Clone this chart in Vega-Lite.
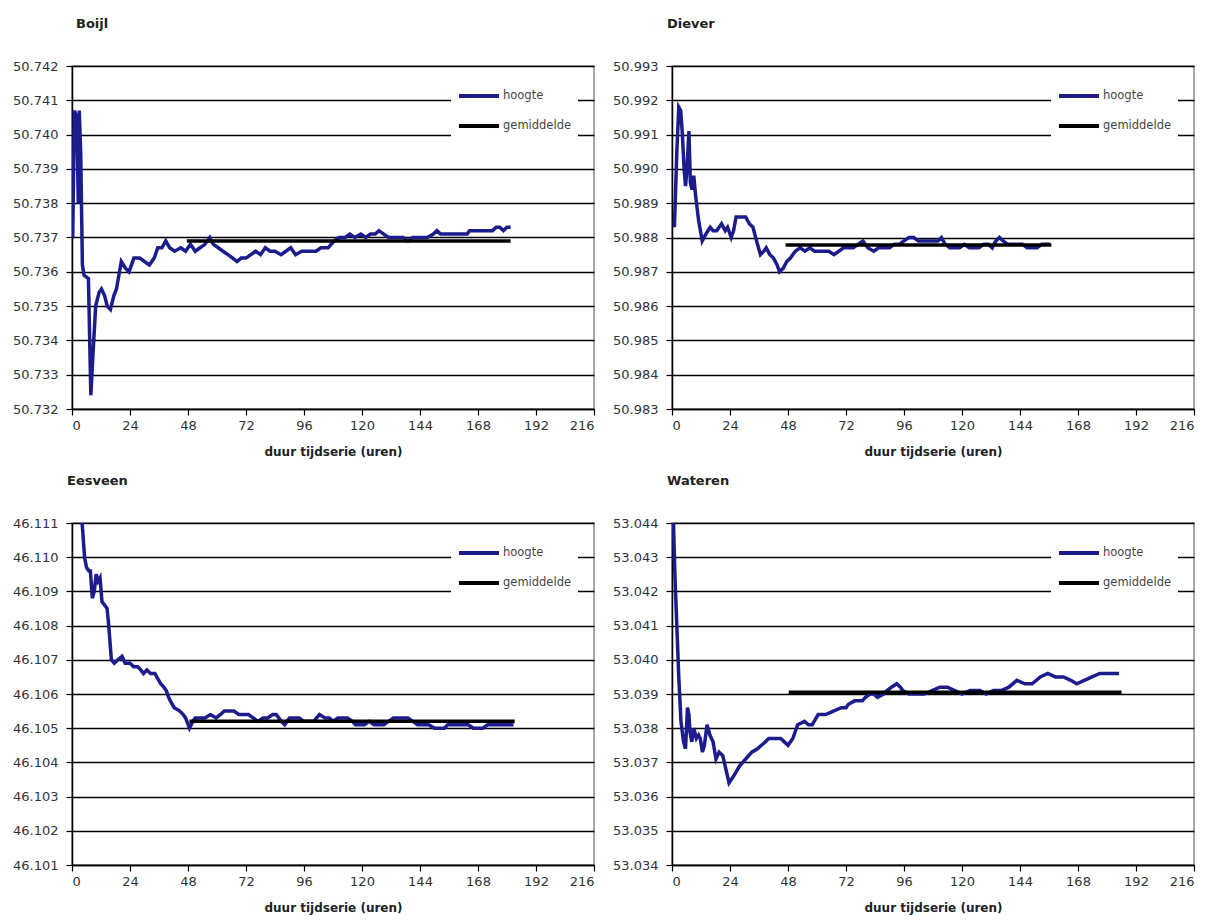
{
  "$schema": "https://vega.github.io/schema/vega-lite/v6.json",
  "padding": {"left": 5, "top": 17, "right": 5, "bottom": 5},
  "background": "white",
  "config": {
    "font": "DejaVu Sans",
    "view": {"stroke": "#8c8c8c", "strokeWidth": 1.5},
    "axis": {"labelFont": "DejaVu Sans", "labelFontSize": 13, "labelColor": "#333333", "tickColor": "#000000", "domainColor": "#000000", "domainWidth": 1.5, "tickWidth": 1.2, "tickSize": 6, "gridColor": "#000000", "gridWidth": 1.5, "titleFont": "DejaVu Sans", "titleFontSize": 12, "titleFontWeight": "bold", "titleColor": "#222222"},
    "axisX": {"grid": false, "labelPadding": 4, "titlePadding": 14},
    "axisY": {"grid": true, "format": ".3f", "title": null, "minExtent": 66, "maxExtent": 66, "labelPadding": 8},
    "title": {"anchor": "start", "frame": "group", "fontSize": 13, "fontWeight": "bold", "color": "#222222", "offset": 29, "font": "DejaVu Sans"},
    "legend": {"orient": "none", "legendX": 379, "legendY": 2, "fillColor": "white", "padding": 6, "symbolType": "stroke", "symbolSize": 1600, "symbolStrokeWidth": 4, "labelFont": "DejaVu Sans", "labelFontSize": 11.5, "labelColor": "#444444", "labelOffset": 2, "rowPadding": 0, "labelExpr": "datum.label + '  '"}
  },
  "datasets": {
    "all": [
      {"s": "Boijl", "k": "hoogte", "t": 0.3, "v": 50.7370},
      {"s": "Boijl", "k": "hoogte", "t": 1.0, "v": 50.7407},
      {"s": "Boijl", "k": "hoogte", "t": 2.0, "v": 50.7405},
      {"s": "Boijl", "k": "hoogte", "t": 2.6, "v": 50.7380},
      {"s": "Boijl", "k": "hoogte", "t": 3.0, "v": 50.7407},
      {"s": "Boijl", "k": "hoogte", "t": 3.6, "v": 50.7395},
      {"s": "Boijl", "k": "hoogte", "t": 4.3, "v": 50.7362},
      {"s": "Boijl", "k": "hoogte", "t": 5.0, "v": 50.7359},
      {"s": "Boijl", "k": "hoogte", "t": 6.8, "v": 50.7358},
      {"s": "Boijl", "k": "hoogte", "t": 7.8, "v": 50.7324},
      {"s": "Boijl", "k": "hoogte", "t": 8.6, "v": 50.7335},
      {"s": "Boijl", "k": "hoogte", "t": 9.8, "v": 50.7350},
      {"s": "Boijl", "k": "hoogte", "t": 11.2, "v": 50.7354},
      {"s": "Boijl", "k": "hoogte", "t": 12.2, "v": 50.7355},
      {"s": "Boijl", "k": "hoogte", "t": 13.5, "v": 50.7353},
      {"s": "Boijl", "k": "hoogte", "t": 14.6, "v": 50.7350},
      {"s": "Boijl", "k": "hoogte", "t": 15.9, "v": 50.7349},
      {"s": "Boijl", "k": "hoogte", "t": 17.3, "v": 50.7353},
      {"s": "Boijl", "k": "hoogte", "t": 18.4, "v": 50.7355},
      {"s": "Boijl", "k": "hoogte", "t": 20.4, "v": 50.7363},
      {"s": "Boijl", "k": "hoogte", "t": 22.2, "v": 50.7361},
      {"s": "Boijl", "k": "hoogte", "t": 23.6, "v": 50.7360},
      {"s": "Boijl", "k": "hoogte", "t": 25.6, "v": 50.7364},
      {"s": "Boijl", "k": "hoogte", "t": 28.0, "v": 50.7364},
      {"s": "Boijl", "k": "hoogte", "t": 30.0, "v": 50.7363},
      {"s": "Boijl", "k": "hoogte", "t": 32.0, "v": 50.7362},
      {"s": "Boijl", "k": "hoogte", "t": 34.0, "v": 50.7364},
      {"s": "Boijl", "k": "hoogte", "t": 35.5, "v": 50.7367},
      {"s": "Boijl", "k": "hoogte", "t": 37.2, "v": 50.7367},
      {"s": "Boijl", "k": "hoogte", "t": 38.8, "v": 50.7369},
      {"s": "Boijl", "k": "hoogte", "t": 40.4, "v": 50.7367},
      {"s": "Boijl", "k": "hoogte", "t": 42.5, "v": 50.7366},
      {"s": "Boijl", "k": "hoogte", "t": 45.0, "v": 50.7367},
      {"s": "Boijl", "k": "hoogte", "t": 47.0, "v": 50.7366},
      {"s": "Boijl", "k": "hoogte", "t": 49.0, "v": 50.7368},
      {"s": "Boijl", "k": "hoogte", "t": 51.0, "v": 50.7366},
      {"s": "Boijl", "k": "hoogte", "t": 53.0, "v": 50.7367},
      {"s": "Boijl", "k": "hoogte", "t": 55.0, "v": 50.7368},
      {"s": "Boijl", "k": "hoogte", "t": 57.0, "v": 50.7370},
      {"s": "Boijl", "k": "hoogte", "t": 58.5, "v": 50.7368},
      {"s": "Boijl", "k": "hoogte", "t": 60.5, "v": 50.7367},
      {"s": "Boijl", "k": "hoogte", "t": 62.5, "v": 50.7366},
      {"s": "Boijl", "k": "hoogte", "t": 64.5, "v": 50.7365},
      {"s": "Boijl", "k": "hoogte", "t": 66.5, "v": 50.7364},
      {"s": "Boijl", "k": "hoogte", "t": 68.3, "v": 50.7363},
      {"s": "Boijl", "k": "hoogte", "t": 70.0, "v": 50.7364},
      {"s": "Boijl", "k": "hoogte", "t": 72.0, "v": 50.7364},
      {"s": "Boijl", "k": "hoogte", "t": 74.0, "v": 50.7365},
      {"s": "Boijl", "k": "hoogte", "t": 76.0, "v": 50.7366},
      {"s": "Boijl", "k": "hoogte", "t": 78.0, "v": 50.7365},
      {"s": "Boijl", "k": "hoogte", "t": 80.0, "v": 50.7367},
      {"s": "Boijl", "k": "hoogte", "t": 82.0, "v": 50.7366},
      {"s": "Boijl", "k": "hoogte", "t": 84.0, "v": 50.7366},
      {"s": "Boijl", "k": "hoogte", "t": 86.5, "v": 50.7365},
      {"s": "Boijl", "k": "hoogte", "t": 88.5, "v": 50.7366},
      {"s": "Boijl", "k": "hoogte", "t": 90.5, "v": 50.7367},
      {"s": "Boijl", "k": "hoogte", "t": 92.5, "v": 50.7365},
      {"s": "Boijl", "k": "hoogte", "t": 95.0, "v": 50.7366},
      {"s": "Boijl", "k": "hoogte", "t": 98.0, "v": 50.7366},
      {"s": "Boijl", "k": "hoogte", "t": 101.0, "v": 50.7366},
      {"s": "Boijl", "k": "hoogte", "t": 103.0, "v": 50.7367},
      {"s": "Boijl", "k": "hoogte", "t": 106.0, "v": 50.7367},
      {"s": "Boijl", "k": "hoogte", "t": 108.5, "v": 50.7369},
      {"s": "Boijl", "k": "hoogte", "t": 110.5, "v": 50.7370},
      {"s": "Boijl", "k": "hoogte", "t": 113.0, "v": 50.7370},
      {"s": "Boijl", "k": "hoogte", "t": 115.0, "v": 50.7371},
      {"s": "Boijl", "k": "hoogte", "t": 117.0, "v": 50.7370},
      {"s": "Boijl", "k": "hoogte", "t": 119.5, "v": 50.7371},
      {"s": "Boijl", "k": "hoogte", "t": 121.5, "v": 50.7370},
      {"s": "Boijl", "k": "hoogte", "t": 123.5, "v": 50.7371},
      {"s": "Boijl", "k": "hoogte", "t": 125.5, "v": 50.7371},
      {"s": "Boijl", "k": "hoogte", "t": 127.0, "v": 50.7372},
      {"s": "Boijl", "k": "hoogte", "t": 129.0, "v": 50.7371},
      {"s": "Boijl", "k": "hoogte", "t": 131.0, "v": 50.7370},
      {"s": "Boijl", "k": "hoogte", "t": 134.0, "v": 50.7370},
      {"s": "Boijl", "k": "hoogte", "t": 137.0, "v": 50.7370},
      {"s": "Boijl", "k": "hoogte", "t": 139.0, "v": 50.7369},
      {"s": "Boijl", "k": "hoogte", "t": 141.0, "v": 50.7370},
      {"s": "Boijl", "k": "hoogte", "t": 144.0, "v": 50.7370},
      {"s": "Boijl", "k": "hoogte", "t": 147.0, "v": 50.7370},
      {"s": "Boijl", "k": "hoogte", "t": 149.5, "v": 50.7371},
      {"s": "Boijl", "k": "hoogte", "t": 151.0, "v": 50.7372},
      {"s": "Boijl", "k": "hoogte", "t": 152.5, "v": 50.7371},
      {"s": "Boijl", "k": "hoogte", "t": 155.0, "v": 50.7371},
      {"s": "Boijl", "k": "hoogte", "t": 158.0, "v": 50.7371},
      {"s": "Boijl", "k": "hoogte", "t": 161.0, "v": 50.7371},
      {"s": "Boijl", "k": "hoogte", "t": 163.5, "v": 50.7371},
      {"s": "Boijl", "k": "hoogte", "t": 164.5, "v": 50.7372},
      {"s": "Boijl", "k": "hoogte", "t": 168.0, "v": 50.7372},
      {"s": "Boijl", "k": "hoogte", "t": 171.0, "v": 50.7372},
      {"s": "Boijl", "k": "hoogte", "t": 174.0, "v": 50.7372},
      {"s": "Boijl", "k": "hoogte", "t": 175.5, "v": 50.7373},
      {"s": "Boijl", "k": "hoogte", "t": 177.0, "v": 50.7373},
      {"s": "Boijl", "k": "hoogte", "t": 178.5, "v": 50.7372},
      {"s": "Boijl", "k": "hoogte", "t": 180.0, "v": 50.7373},
      {"s": "Boijl", "k": "hoogte", "t": 181.5, "v": 50.7373},
      {"s": "Boijl", "k": "gemiddelde", "t": 47.5, "v": 50.7369},
      {"s": "Boijl", "k": "gemiddelde", "t": 181.5, "v": 50.7369},

      {"s": "Diever", "k": "hoogte", "t": 1.0, "v": 50.9883},
      {"s": "Diever", "k": "hoogte", "t": 2.0, "v": 50.9905},
      {"s": "Diever", "k": "hoogte", "t": 2.8, "v": 50.9918},
      {"s": "Diever", "k": "hoogte", "t": 3.6, "v": 50.9917},
      {"s": "Diever", "k": "hoogte", "t": 4.3, "v": 50.9910},
      {"s": "Diever", "k": "hoogte", "t": 5.0, "v": 50.9900},
      {"s": "Diever", "k": "hoogte", "t": 5.6, "v": 50.9895},
      {"s": "Diever", "k": "hoogte", "t": 6.2, "v": 50.9900},
      {"s": "Diever", "k": "hoogte", "t": 7.0, "v": 50.9911},
      {"s": "Diever", "k": "hoogte", "t": 7.6, "v": 50.9896},
      {"s": "Diever", "k": "hoogte", "t": 8.3, "v": 50.9894},
      {"s": "Diever", "k": "hoogte", "t": 9.0, "v": 50.9898},
      {"s": "Diever", "k": "hoogte", "t": 9.8, "v": 50.9892},
      {"s": "Diever", "k": "hoogte", "t": 11.0, "v": 50.9885},
      {"s": "Diever", "k": "hoogte", "t": 12.5, "v": 50.9879},
      {"s": "Diever", "k": "hoogte", "t": 14.0, "v": 50.9881},
      {"s": "Diever", "k": "hoogte", "t": 15.8, "v": 50.9883},
      {"s": "Diever", "k": "hoogte", "t": 17.0, "v": 50.9882},
      {"s": "Diever", "k": "hoogte", "t": 18.5, "v": 50.9882},
      {"s": "Diever", "k": "hoogte", "t": 20.5, "v": 50.9884},
      {"s": "Diever", "k": "hoogte", "t": 22.0, "v": 50.9882},
      {"s": "Diever", "k": "hoogte", "t": 23.0, "v": 50.9883},
      {"s": "Diever", "k": "hoogte", "t": 24.5, "v": 50.9880},
      {"s": "Diever", "k": "hoogte", "t": 25.5, "v": 50.9882},
      {"s": "Diever", "k": "hoogte", "t": 26.5, "v": 50.9886},
      {"s": "Diever", "k": "hoogte", "t": 28.5, "v": 50.9886},
      {"s": "Diever", "k": "hoogte", "t": 30.5, "v": 50.9886},
      {"s": "Diever", "k": "hoogte", "t": 32.0, "v": 50.9884},
      {"s": "Diever", "k": "hoogte", "t": 33.5, "v": 50.9883},
      {"s": "Diever", "k": "hoogte", "t": 35.0, "v": 50.9879},
      {"s": "Diever", "k": "hoogte", "t": 36.6, "v": 50.9875},
      {"s": "Diever", "k": "hoogte", "t": 38.0, "v": 50.9876},
      {"s": "Diever", "k": "hoogte", "t": 39.0, "v": 50.9877},
      {"s": "Diever", "k": "hoogte", "t": 40.5, "v": 50.9875},
      {"s": "Diever", "k": "hoogte", "t": 42.0, "v": 50.9874},
      {"s": "Diever", "k": "hoogte", "t": 43.5, "v": 50.9872},
      {"s": "Diever", "k": "hoogte", "t": 44.5, "v": 50.9870},
      {"s": "Diever", "k": "hoogte", "t": 46.0, "v": 50.9871},
      {"s": "Diever", "k": "hoogte", "t": 47.5, "v": 50.9873},
      {"s": "Diever", "k": "hoogte", "t": 49.0, "v": 50.9874},
      {"s": "Diever", "k": "hoogte", "t": 51.0, "v": 50.9876},
      {"s": "Diever", "k": "hoogte", "t": 53.0, "v": 50.9877},
      {"s": "Diever", "k": "hoogte", "t": 55.0, "v": 50.9876},
      {"s": "Diever", "k": "hoogte", "t": 57.0, "v": 50.9877},
      {"s": "Diever", "k": "hoogte", "t": 59.0, "v": 50.9876},
      {"s": "Diever", "k": "hoogte", "t": 61.0, "v": 50.9876},
      {"s": "Diever", "k": "hoogte", "t": 63.0, "v": 50.9876},
      {"s": "Diever", "k": "hoogte", "t": 65.0, "v": 50.9876},
      {"s": "Diever", "k": "hoogte", "t": 67.0, "v": 50.9875},
      {"s": "Diever", "k": "hoogte", "t": 69.0, "v": 50.9876},
      {"s": "Diever", "k": "hoogte", "t": 71.0, "v": 50.9877},
      {"s": "Diever", "k": "hoogte", "t": 73.0, "v": 50.9877},
      {"s": "Diever", "k": "hoogte", "t": 75.0, "v": 50.9877},
      {"s": "Diever", "k": "hoogte", "t": 77.0, "v": 50.9878},
      {"s": "Diever", "k": "hoogte", "t": 79.0, "v": 50.9879},
      {"s": "Diever", "k": "hoogte", "t": 81.0, "v": 50.9877},
      {"s": "Diever", "k": "hoogte", "t": 83.5, "v": 50.9876},
      {"s": "Diever", "k": "hoogte", "t": 85.5, "v": 50.9877},
      {"s": "Diever", "k": "hoogte", "t": 88.0, "v": 50.9877},
      {"s": "Diever", "k": "hoogte", "t": 90.0, "v": 50.9877},
      {"s": "Diever", "k": "hoogte", "t": 92.0, "v": 50.9878},
      {"s": "Diever", "k": "hoogte", "t": 94.0, "v": 50.9878},
      {"s": "Diever", "k": "hoogte", "t": 96.0, "v": 50.9879},
      {"s": "Diever", "k": "hoogte", "t": 98.0, "v": 50.9880},
      {"s": "Diever", "k": "hoogte", "t": 100.0, "v": 50.9880},
      {"s": "Diever", "k": "hoogte", "t": 102.0, "v": 50.9879},
      {"s": "Diever", "k": "hoogte", "t": 104.0, "v": 50.9879},
      {"s": "Diever", "k": "hoogte", "t": 106.0, "v": 50.9879},
      {"s": "Diever", "k": "hoogte", "t": 108.0, "v": 50.9879},
      {"s": "Diever", "k": "hoogte", "t": 110.0, "v": 50.9879},
      {"s": "Diever", "k": "hoogte", "t": 111.5, "v": 50.9880},
      {"s": "Diever", "k": "hoogte", "t": 113.0, "v": 50.9878},
      {"s": "Diever", "k": "hoogte", "t": 115.0, "v": 50.9877},
      {"s": "Diever", "k": "hoogte", "t": 117.0, "v": 50.9877},
      {"s": "Diever", "k": "hoogte", "t": 119.0, "v": 50.9877},
      {"s": "Diever", "k": "hoogte", "t": 121.0, "v": 50.9878},
      {"s": "Diever", "k": "hoogte", "t": 123.0, "v": 50.9877},
      {"s": "Diever", "k": "hoogte", "t": 125.0, "v": 50.9877},
      {"s": "Diever", "k": "hoogte", "t": 127.0, "v": 50.9877},
      {"s": "Diever", "k": "hoogte", "t": 129.0, "v": 50.9878},
      {"s": "Diever", "k": "hoogte", "t": 131.0, "v": 50.9878},
      {"s": "Diever", "k": "hoogte", "t": 132.5, "v": 50.9877},
      {"s": "Diever", "k": "hoogte", "t": 134.0, "v": 50.9879},
      {"s": "Diever", "k": "hoogte", "t": 135.5, "v": 50.9880},
      {"s": "Diever", "k": "hoogte", "t": 137.0, "v": 50.9879},
      {"s": "Diever", "k": "hoogte", "t": 139.0, "v": 50.9878},
      {"s": "Diever", "k": "hoogte", "t": 141.0, "v": 50.9878},
      {"s": "Diever", "k": "hoogte", "t": 143.0, "v": 50.9878},
      {"s": "Diever", "k": "hoogte", "t": 145.0, "v": 50.9878},
      {"s": "Diever", "k": "hoogte", "t": 147.0, "v": 50.9877},
      {"s": "Diever", "k": "hoogte", "t": 149.0, "v": 50.9877},
      {"s": "Diever", "k": "hoogte", "t": 151.0, "v": 50.9877},
      {"s": "Diever", "k": "hoogte", "t": 153.0, "v": 50.9878},
      {"s": "Diever", "k": "hoogte", "t": 155.0, "v": 50.9878},
      {"s": "Diever", "k": "hoogte", "t": 156.5, "v": 50.9878},
      {"s": "Diever", "k": "gemiddelde", "t": 47.0, "v": 50.98778},
      {"s": "Diever", "k": "gemiddelde", "t": 157.0, "v": 50.98778},

      {"s": "Eesveen", "k": "hoogte", "t": 3.8, "v": 46.1113},
      {"s": "Eesveen", "k": "hoogte", "t": 4.4, "v": 46.1108},
      {"s": "Eesveen", "k": "hoogte", "t": 5.2, "v": 46.1100},
      {"s": "Eesveen", "k": "hoogte", "t": 6.0, "v": 46.1097},
      {"s": "Eesveen", "k": "hoogte", "t": 7.0, "v": 46.1096},
      {"s": "Eesveen", "k": "hoogte", "t": 7.6, "v": 46.1096},
      {"s": "Eesveen", "k": "hoogte", "t": 8.4, "v": 46.1088},
      {"s": "Eesveen", "k": "hoogte", "t": 9.2, "v": 46.1090},
      {"s": "Eesveen", "k": "hoogte", "t": 10.0, "v": 46.1095},
      {"s": "Eesveen", "k": "hoogte", "t": 10.8, "v": 46.1093},
      {"s": "Eesveen", "k": "hoogte", "t": 11.6, "v": 46.1094},
      {"s": "Eesveen", "k": "hoogte", "t": 12.4, "v": 46.1087},
      {"s": "Eesveen", "k": "hoogte", "t": 13.5, "v": 46.1086},
      {"s": "Eesveen", "k": "hoogte", "t": 14.5, "v": 46.1085},
      {"s": "Eesveen", "k": "hoogte", "t": 15.2, "v": 46.1080},
      {"s": "Eesveen", "k": "hoogte", "t": 16.3, "v": 46.1070},
      {"s": "Eesveen", "k": "hoogte", "t": 17.5, "v": 46.1069},
      {"s": "Eesveen", "k": "hoogte", "t": 19.0, "v": 46.1070},
      {"s": "Eesveen", "k": "hoogte", "t": 20.7, "v": 46.1071},
      {"s": "Eesveen", "k": "hoogte", "t": 22.0, "v": 46.1069},
      {"s": "Eesveen", "k": "hoogte", "t": 24.0, "v": 46.1069},
      {"s": "Eesveen", "k": "hoogte", "t": 25.5, "v": 46.1068},
      {"s": "Eesveen", "k": "hoogte", "t": 27.2, "v": 46.1068},
      {"s": "Eesveen", "k": "hoogte", "t": 28.5, "v": 46.1067},
      {"s": "Eesveen", "k": "hoogte", "t": 29.6, "v": 46.1066},
      {"s": "Eesveen", "k": "hoogte", "t": 31.0, "v": 46.1067},
      {"s": "Eesveen", "k": "hoogte", "t": 32.5, "v": 46.1066},
      {"s": "Eesveen", "k": "hoogte", "t": 34.3, "v": 46.1066},
      {"s": "Eesveen", "k": "hoogte", "t": 35.9, "v": 46.1064},
      {"s": "Eesveen", "k": "hoogte", "t": 36.7, "v": 46.1063},
      {"s": "Eesveen", "k": "hoogte", "t": 38.0, "v": 46.1062},
      {"s": "Eesveen", "k": "hoogte", "t": 39.0, "v": 46.1061},
      {"s": "Eesveen", "k": "hoogte", "t": 40.0, "v": 46.1059},
      {"s": "Eesveen", "k": "hoogte", "t": 40.7, "v": 46.1058},
      {"s": "Eesveen", "k": "hoogte", "t": 42.3, "v": 46.1056},
      {"s": "Eesveen", "k": "hoogte", "t": 44.6, "v": 46.1055},
      {"s": "Eesveen", "k": "hoogte", "t": 46.0, "v": 46.1054},
      {"s": "Eesveen", "k": "hoogte", "t": 47.0, "v": 46.1053},
      {"s": "Eesveen", "k": "hoogte", "t": 48.6, "v": 46.1050},
      {"s": "Eesveen", "k": "hoogte", "t": 50.0, "v": 46.1052},
      {"s": "Eesveen", "k": "hoogte", "t": 51.0, "v": 46.1053},
      {"s": "Eesveen", "k": "hoogte", "t": 53.0, "v": 46.1053},
      {"s": "Eesveen", "k": "hoogte", "t": 55.0, "v": 46.1053},
      {"s": "Eesveen", "k": "hoogte", "t": 57.3, "v": 46.1054},
      {"s": "Eesveen", "k": "hoogte", "t": 59.6, "v": 46.1053},
      {"s": "Eesveen", "k": "hoogte", "t": 61.5, "v": 46.1054},
      {"s": "Eesveen", "k": "hoogte", "t": 63.0, "v": 46.1055},
      {"s": "Eesveen", "k": "hoogte", "t": 65.0, "v": 46.1055},
      {"s": "Eesveen", "k": "hoogte", "t": 67.0, "v": 46.1055},
      {"s": "Eesveen", "k": "hoogte", "t": 69.0, "v": 46.1054},
      {"s": "Eesveen", "k": "hoogte", "t": 71.0, "v": 46.1054},
      {"s": "Eesveen", "k": "hoogte", "t": 73.0, "v": 46.1054},
      {"s": "Eesveen", "k": "hoogte", "t": 75.0, "v": 46.1053},
      {"s": "Eesveen", "k": "hoogte", "t": 77.0, "v": 46.1052},
      {"s": "Eesveen", "k": "hoogte", "t": 79.0, "v": 46.1053},
      {"s": "Eesveen", "k": "hoogte", "t": 81.0, "v": 46.1053},
      {"s": "Eesveen", "k": "hoogte", "t": 83.0, "v": 46.1054},
      {"s": "Eesveen", "k": "hoogte", "t": 84.5, "v": 46.1054},
      {"s": "Eesveen", "k": "hoogte", "t": 86.6, "v": 46.1052},
      {"s": "Eesveen", "k": "hoogte", "t": 88.0, "v": 46.1051},
      {"s": "Eesveen", "k": "hoogte", "t": 90.0, "v": 46.1053},
      {"s": "Eesveen", "k": "hoogte", "t": 92.0, "v": 46.1053},
      {"s": "Eesveen", "k": "hoogte", "t": 94.0, "v": 46.1053},
      {"s": "Eesveen", "k": "hoogte", "t": 96.0, "v": 46.1052},
      {"s": "Eesveen", "k": "hoogte", "t": 98.0, "v": 46.1052},
      {"s": "Eesveen", "k": "hoogte", "t": 100.0, "v": 46.1052},
      {"s": "Eesveen", "k": "hoogte", "t": 102.4, "v": 46.1054},
      {"s": "Eesveen", "k": "hoogte", "t": 104.7, "v": 46.1053},
      {"s": "Eesveen", "k": "hoogte", "t": 106.5, "v": 46.1053},
      {"s": "Eesveen", "k": "hoogte", "t": 108.0, "v": 46.1052},
      {"s": "Eesveen", "k": "hoogte", "t": 110.0, "v": 46.1053},
      {"s": "Eesveen", "k": "hoogte", "t": 112.0, "v": 46.1053},
      {"s": "Eesveen", "k": "hoogte", "t": 114.0, "v": 46.1053},
      {"s": "Eesveen", "k": "hoogte", "t": 116.0, "v": 46.1052},
      {"s": "Eesveen", "k": "hoogte", "t": 117.3, "v": 46.1051},
      {"s": "Eesveen", "k": "hoogte", "t": 119.0, "v": 46.1051},
      {"s": "Eesveen", "k": "hoogte", "t": 121.0, "v": 46.1051},
      {"s": "Eesveen", "k": "hoogte", "t": 123.0, "v": 46.1052},
      {"s": "Eesveen", "k": "hoogte", "t": 125.0, "v": 46.1051},
      {"s": "Eesveen", "k": "hoogte", "t": 127.0, "v": 46.1051},
      {"s": "Eesveen", "k": "hoogte", "t": 129.0, "v": 46.1051},
      {"s": "Eesveen", "k": "hoogte", "t": 131.0, "v": 46.1052},
      {"s": "Eesveen", "k": "hoogte", "t": 133.0, "v": 46.1053},
      {"s": "Eesveen", "k": "hoogte", "t": 135.0, "v": 46.1053},
      {"s": "Eesveen", "k": "hoogte", "t": 137.0, "v": 46.1053},
      {"s": "Eesveen", "k": "hoogte", "t": 139.0, "v": 46.1053},
      {"s": "Eesveen", "k": "hoogte", "t": 141.0, "v": 46.1052},
      {"s": "Eesveen", "k": "hoogte", "t": 143.0, "v": 46.1051},
      {"s": "Eesveen", "k": "hoogte", "t": 145.0, "v": 46.1051},
      {"s": "Eesveen", "k": "hoogte", "t": 147.6, "v": 46.1051},
      {"s": "Eesveen", "k": "hoogte", "t": 150.0, "v": 46.1050},
      {"s": "Eesveen", "k": "hoogte", "t": 152.0, "v": 46.1050},
      {"s": "Eesveen", "k": "hoogte", "t": 154.0, "v": 46.1050},
      {"s": "Eesveen", "k": "hoogte", "t": 155.5, "v": 46.1051},
      {"s": "Eesveen", "k": "hoogte", "t": 158.0, "v": 46.1051},
      {"s": "Eesveen", "k": "hoogte", "t": 160.0, "v": 46.1051},
      {"s": "Eesveen", "k": "hoogte", "t": 162.0, "v": 46.1051},
      {"s": "Eesveen", "k": "hoogte", "t": 164.0, "v": 46.1051},
      {"s": "Eesveen", "k": "hoogte", "t": 166.0, "v": 46.1050},
      {"s": "Eesveen", "k": "hoogte", "t": 168.0, "v": 46.1050},
      {"s": "Eesveen", "k": "hoogte", "t": 170.0, "v": 46.1050},
      {"s": "Eesveen", "k": "hoogte", "t": 172.0, "v": 46.1051},
      {"s": "Eesveen", "k": "hoogte", "t": 174.0, "v": 46.1051},
      {"s": "Eesveen", "k": "hoogte", "t": 176.0, "v": 46.1051},
      {"s": "Eesveen", "k": "hoogte", "t": 178.6, "v": 46.1051},
      {"s": "Eesveen", "k": "hoogte", "t": 181.0, "v": 46.1051},
      {"s": "Eesveen", "k": "hoogte", "t": 182.7, "v": 46.1051},
      {"s": "Eesveen", "k": "gemiddelde", "t": 48.6, "v": 46.1052},
      {"s": "Eesveen", "k": "gemiddelde", "t": 183.2, "v": 46.1052},

      {"s": "Wateren", "k": "hoogte", "t": 0.4, "v": 53.0445},
      {"s": "Wateren", "k": "hoogte", "t": 1.2, "v": 53.0425},
      {"s": "Wateren", "k": "hoogte", "t": 2.0, "v": 53.0410},
      {"s": "Wateren", "k": "hoogte", "t": 2.8, "v": 53.0395},
      {"s": "Wateren", "k": "hoogte", "t": 3.7, "v": 53.0382},
      {"s": "Wateren", "k": "hoogte", "t": 4.8, "v": 53.0376},
      {"s": "Wateren", "k": "hoogte", "t": 5.6, "v": 53.0374},
      {"s": "Wateren", "k": "hoogte", "t": 6.4, "v": 53.0386},
      {"s": "Wateren", "k": "hoogte", "t": 7.0, "v": 53.0384},
      {"s": "Wateren", "k": "hoogte", "t": 7.4, "v": 53.0379},
      {"s": "Wateren", "k": "hoogte", "t": 8.2, "v": 53.0376},
      {"s": "Wateren", "k": "hoogte", "t": 9.0, "v": 53.0380},
      {"s": "Wateren", "k": "hoogte", "t": 10.1, "v": 53.0377},
      {"s": "Wateren", "k": "hoogte", "t": 11.0, "v": 53.0378},
      {"s": "Wateren", "k": "hoogte", "t": 11.7, "v": 53.0377},
      {"s": "Wateren", "k": "hoogte", "t": 12.6, "v": 53.0373},
      {"s": "Wateren", "k": "hoogte", "t": 13.4, "v": 53.0375},
      {"s": "Wateren", "k": "hoogte", "t": 14.5, "v": 53.0381},
      {"s": "Wateren", "k": "hoogte", "t": 15.7, "v": 53.0378},
      {"s": "Wateren", "k": "hoogte", "t": 17.0, "v": 53.0376},
      {"s": "Wateren", "k": "hoogte", "t": 18.2, "v": 53.0371},
      {"s": "Wateren", "k": "hoogte", "t": 19.5, "v": 53.0373},
      {"s": "Wateren", "k": "hoogte", "t": 21.0, "v": 53.0372},
      {"s": "Wateren", "k": "hoogte", "t": 22.3, "v": 53.0368},
      {"s": "Wateren", "k": "hoogte", "t": 23.6, "v": 53.0364},
      {"s": "Wateren", "k": "hoogte", "t": 25.5, "v": 53.0366},
      {"s": "Wateren", "k": "hoogte", "t": 28.0, "v": 53.0369},
      {"s": "Wateren", "k": "hoogte", "t": 30.5, "v": 53.0371},
      {"s": "Wateren", "k": "hoogte", "t": 33.0, "v": 53.0373},
      {"s": "Wateren", "k": "hoogte", "t": 35.4, "v": 53.0374},
      {"s": "Wateren", "k": "hoogte", "t": 37.0, "v": 53.0375},
      {"s": "Wateren", "k": "hoogte", "t": 38.6, "v": 53.0376},
      {"s": "Wateren", "k": "hoogte", "t": 40.0, "v": 53.0377},
      {"s": "Wateren", "k": "hoogte", "t": 41.8, "v": 53.0377},
      {"s": "Wateren", "k": "hoogte", "t": 43.5, "v": 53.0377},
      {"s": "Wateren", "k": "hoogte", "t": 45.0, "v": 53.0377},
      {"s": "Wateren", "k": "hoogte", "t": 46.5, "v": 53.0376},
      {"s": "Wateren", "k": "hoogte", "t": 48.0, "v": 53.0375},
      {"s": "Wateren", "k": "hoogte", "t": 50.0, "v": 53.0377},
      {"s": "Wateren", "k": "hoogte", "t": 52.0, "v": 53.0381},
      {"s": "Wateren", "k": "hoogte", "t": 54.8, "v": 53.0382},
      {"s": "Wateren", "k": "hoogte", "t": 56.5, "v": 53.0381},
      {"s": "Wateren", "k": "hoogte", "t": 58.0, "v": 53.0381},
      {"s": "Wateren", "k": "hoogte", "t": 60.5, "v": 53.0384},
      {"s": "Wateren", "k": "hoogte", "t": 62.0, "v": 53.0384},
      {"s": "Wateren", "k": "hoogte", "t": 63.6, "v": 53.0384},
      {"s": "Wateren", "k": "hoogte", "t": 66.8, "v": 53.0385},
      {"s": "Wateren", "k": "hoogte", "t": 70.0, "v": 53.0386},
      {"s": "Wateren", "k": "hoogte", "t": 72.0, "v": 53.0386},
      {"s": "Wateren", "k": "hoogte", "t": 73.0, "v": 53.0387},
      {"s": "Wateren", "k": "hoogte", "t": 75.6, "v": 53.0388},
      {"s": "Wateren", "k": "hoogte", "t": 77.5, "v": 53.0388},
      {"s": "Wateren", "k": "hoogte", "t": 78.8, "v": 53.0388},
      {"s": "Wateren", "k": "hoogte", "t": 80.0, "v": 53.0389},
      {"s": "Wateren", "k": "hoogte", "t": 82.0, "v": 53.0390},
      {"s": "Wateren", "k": "hoogte", "t": 83.5, "v": 53.0390},
      {"s": "Wateren", "k": "hoogte", "t": 85.0, "v": 53.0389},
      {"s": "Wateren", "k": "hoogte", "t": 87.6, "v": 53.0390},
      {"s": "Wateren", "k": "hoogte", "t": 89.0, "v": 53.0391},
      {"s": "Wateren", "k": "hoogte", "t": 90.8, "v": 53.0392},
      {"s": "Wateren", "k": "hoogte", "t": 93.0, "v": 53.0393},
      {"s": "Wateren", "k": "hoogte", "t": 94.5, "v": 53.0392},
      {"s": "Wateren", "k": "hoogte", "t": 95.5, "v": 53.0391},
      {"s": "Wateren", "k": "hoogte", "t": 98.0, "v": 53.0390},
      {"s": "Wateren", "k": "hoogte", "t": 101.0, "v": 53.0390},
      {"s": "Wateren", "k": "hoogte", "t": 104.4, "v": 53.0390},
      {"s": "Wateren", "k": "hoogte", "t": 107.6, "v": 53.0391},
      {"s": "Wateren", "k": "hoogte", "t": 110.8, "v": 53.0392},
      {"s": "Wateren", "k": "hoogte", "t": 114.0, "v": 53.0392},
      {"s": "Wateren", "k": "hoogte", "t": 117.0, "v": 53.0391},
      {"s": "Wateren", "k": "hoogte", "t": 120.0, "v": 53.0390},
      {"s": "Wateren", "k": "hoogte", "t": 123.4, "v": 53.0391},
      {"s": "Wateren", "k": "hoogte", "t": 127.4, "v": 53.0391},
      {"s": "Wateren", "k": "hoogte", "t": 130.0, "v": 53.0390},
      {"s": "Wateren", "k": "hoogte", "t": 133.0, "v": 53.0391},
      {"s": "Wateren", "k": "hoogte", "t": 136.2, "v": 53.0391},
      {"s": "Wateren", "k": "hoogte", "t": 139.4, "v": 53.0392},
      {"s": "Wateren", "k": "hoogte", "t": 142.7, "v": 53.0394},
      {"s": "Wateren", "k": "hoogte", "t": 146.0, "v": 53.0393},
      {"s": "Wateren", "k": "hoogte", "t": 149.0, "v": 53.0393},
      {"s": "Wateren", "k": "hoogte", "t": 152.4, "v": 53.0395},
      {"s": "Wateren", "k": "hoogte", "t": 155.5, "v": 53.0396},
      {"s": "Wateren", "k": "hoogte", "t": 158.6, "v": 53.0395},
      {"s": "Wateren", "k": "hoogte", "t": 162.0, "v": 53.0395},
      {"s": "Wateren", "k": "hoogte", "t": 165.0, "v": 53.0394},
      {"s": "Wateren", "k": "hoogte", "t": 167.5, "v": 53.0393},
      {"s": "Wateren", "k": "hoogte", "t": 170.6, "v": 53.0394},
      {"s": "Wateren", "k": "hoogte", "t": 173.8, "v": 53.0395},
      {"s": "Wateren", "k": "hoogte", "t": 177.0, "v": 53.0396},
      {"s": "Wateren", "k": "hoogte", "t": 181.0, "v": 53.0396},
      {"s": "Wateren", "k": "hoogte", "t": 185.0, "v": 53.0396},
      {"s": "Wateren", "k": "gemiddelde", "t": 48.3, "v": 53.03905},
      {"s": "Wateren", "k": "gemiddelde", "t": 186.0, "v": 53.03905}
    ]
  },
  "columns": 2,
  "spacing": {"row": 16, "column": 9},
  "resolve": {"scale": {"color": "independent", "x": "independent", "y": "independent"}, "legend": {"color": "independent"}},
  "concat": [
    {
      "title": {"text": "Boijl", "dx": 4},
      "width": 522, "height": 343,
      "data": {"name": "all"},
      "transform": [{"filter": "datum.s === 'Boijl'"}],
      "mark": {"type": "line", "clip": true, "strokeWidth": 3.5},
      "encoding": {
        "x": {"field": "t", "type": "quantitative", "scale": {"domain": [0, 216], "nice": false}, "axis": {"title": "duur tijdserie (uren)", "values": [0, 24, 48, 72, 96, 120, 144, 168, 192, 216]}},
        "y": {"field": "v", "type": "quantitative", "scale": {"domain": [50.732, 50.742], "zero": false, "nice": false}, "axis": {"values": [50.732, 50.733, 50.734, 50.735, 50.736, 50.737, 50.738, 50.739, 50.740, 50.741, 50.742]}},
        "color": {"field": "k", "type": "nominal", "sort": ["hoogte", "gemiddelde"], "scale": {"domain": ["hoogte", "gemiddelde"], "range": ["#1c1c8c", "#000000"]}, "legend": {"title": null}}
      }
    },
    {
      "title": {"text": "Diever", "dx": -5},
      "width": 522, "height": 343,
      "data": {"name": "all"},
      "transform": [{"filter": "datum.s === 'Diever'"}],
      "mark": {"type": "line", "clip": true, "strokeWidth": 3.5},
      "encoding": {
        "x": {"field": "t", "type": "quantitative", "scale": {"domain": [0, 216], "nice": false}, "axis": {"title": "duur tijdserie (uren)", "values": [0, 24, 48, 72, 96, 120, 144, 168, 192, 216]}},
        "y": {"field": "v", "type": "quantitative", "scale": {"domain": [50.983, 50.993], "zero": false, "nice": false}, "axis": {"values": [50.983, 50.984, 50.985, 50.986, 50.987, 50.988, 50.989, 50.990, 50.991, 50.992, 50.993]}},
        "color": {"field": "k", "type": "nominal", "sort": ["hoogte", "gemiddelde"], "scale": {"domain": ["hoogte", "gemiddelde"], "range": ["#1c1c8c", "#000000"]}, "legend": {"title": null}}
      }
    },
    {
      "title": {"text": "Eesveen", "dx": -5},
      "width": 522, "height": 342,
      "data": {"name": "all"},
      "transform": [{"filter": "datum.s === 'Eesveen'"}],
      "mark": {"type": "line", "clip": true, "strokeWidth": 3.5},
      "encoding": {
        "x": {"field": "t", "type": "quantitative", "scale": {"domain": [0, 216], "nice": false}, "axis": {"title": "duur tijdserie (uren)", "values": [0, 24, 48, 72, 96, 120, 144, 168, 192, 216]}},
        "y": {"field": "v", "type": "quantitative", "scale": {"domain": [46.101, 46.111], "zero": false, "nice": false}, "axis": {"values": [46.101, 46.102, 46.103, 46.104, 46.105, 46.106, 46.107, 46.108, 46.109, 46.110, 46.111]}},
        "color": {"field": "k", "type": "nominal", "sort": ["hoogte", "gemiddelde"], "scale": {"domain": ["hoogte", "gemiddelde"], "range": ["#1c1c8c", "#000000"]}, "legend": {"title": null}}
      }
    },
    {
      "title": {"text": "Wateren", "dx": -5},
      "width": 522, "height": 342,
      "data": {"name": "all"},
      "transform": [{"filter": "datum.s === 'Wateren'"}],
      "mark": {"type": "line", "clip": true, "strokeWidth": 3.5},
      "encoding": {
        "x": {"field": "t", "type": "quantitative", "scale": {"domain": [0, 216], "nice": false}, "axis": {"title": "duur tijdserie (uren)", "values": [0, 24, 48, 72, 96, 120, 144, 168, 192, 216]}},
        "y": {"field": "v", "type": "quantitative", "scale": {"domain": [53.034, 53.044], "zero": false, "nice": false}, "axis": {"values": [53.034, 53.035, 53.036, 53.037, 53.038, 53.039, 53.040, 53.041, 53.042, 53.043, 53.044]}},
        "color": {"field": "k", "type": "nominal", "sort": ["hoogte", "gemiddelde"], "scale": {"domain": ["hoogte", "gemiddelde"], "range": ["#1c1c8c", "#000000"]}, "legend": {"title": null}}
      }
    }
  ]
}
